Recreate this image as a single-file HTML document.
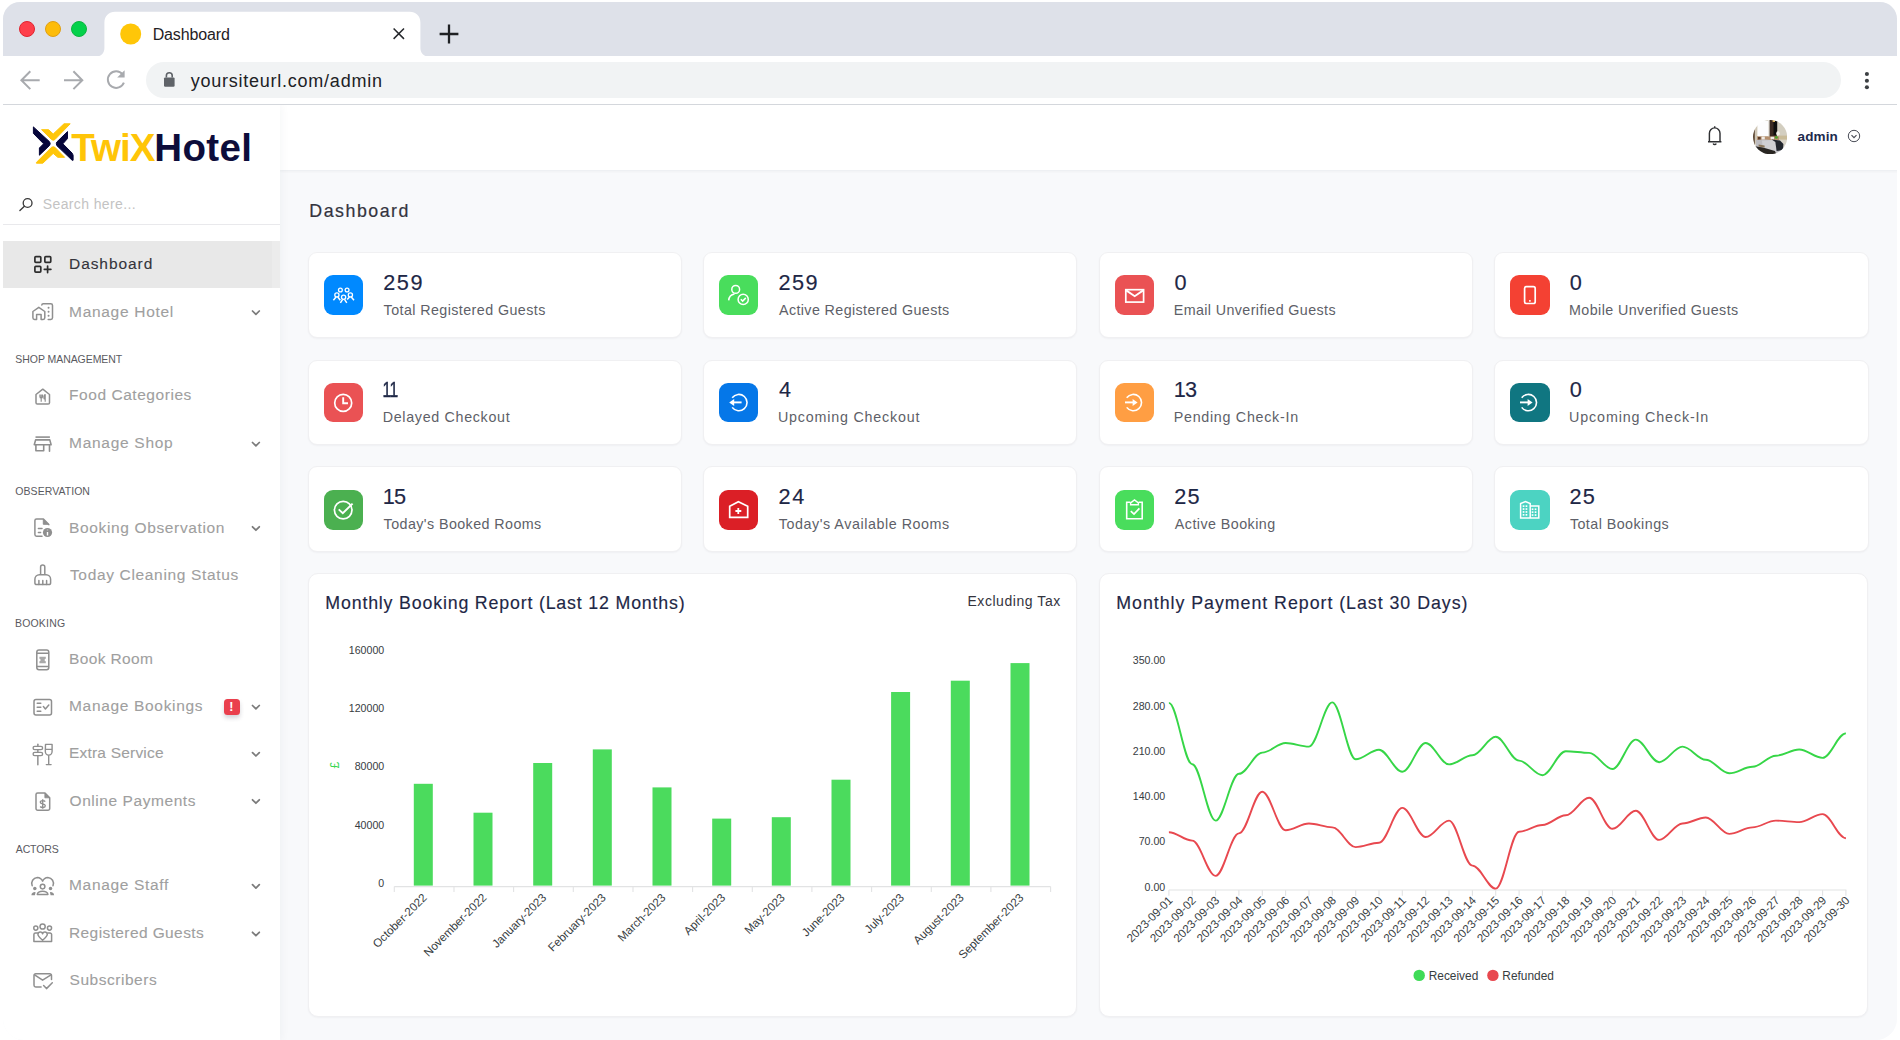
<!DOCTYPE html>
<html lang="en"><head><meta charset="utf-8"><title>Dashboard</title>
<style>
*{box-sizing:border-box}
html,body{margin:0;padding:0}
body{width:1900px;height:1040px;background:#fff;position:relative;overflow:hidden;font-family:"Liberation Sans",Arial,sans-serif}
.t{position:absolute;white-space:nowrap;margin:0}
.abs{position:absolute}
#win{position:absolute;left:3.2px;top:2.3px;width:1893.5px;height:1037.4px;border-radius:17px 17px 21px 21px;overflow:hidden;background:#f8f9fb}
#page{position:absolute;left:-3.2px;top:-2.3px;width:1900px;height:1040px}
#tabbar{z-index:3;left:0;top:0;width:1900px;height:56px;background:#dee1e9}
#toolbar{z-index:3;left:0;top:56px;width:1900px;height:49px;background:#fff;border-bottom:1.5px solid #d4d7dc}
#urlpill{z-index:4;left:145.5px;top:62.3px;width:1695.5px;height:36px;border-radius:18px;background:#f1f3f4}
#sidebar{left:0;top:105px;width:279.5px;height:935px;background:#fff;box-shadow:0 0 10px rgba(40,50,70,.06)}
#header{left:279.5px;top:105px;width:1620.5px;height:65px;background:#fff;box-shadow:0 1px 3px rgba(40,50,70,.07)}
.card{position:absolute;background:#fff;border:1px solid #f0f0f2;border-radius:9px;box-shadow:0 1px 2px rgba(30,30,40,.04)}
.ib{position:absolute;border-radius:9px}
.ib svg{position:absolute;left:0;top:0}
.nav-active{left:0;top:240.7px;width:279.5px;height:47.1px;background:#e8e8e8}
</style></head>
<body>
<div id="win"><div id="page">
<header class="browser-chrome">
<div id="tabbar" class="abs"></div>
<div class="abs" style="z-index:5;left:18.8px;top:20.8px;width:16px;height:16px;border-radius:50%;background:#fe3f4b;border:1px solid #e0242f"></div>
<div class="abs" style="z-index:5;left:45.2px;top:20.8px;width:16px;height:16px;border-radius:50%;background:#fdbc0a;border:1px solid #e09f12"></div>
<div class="abs" style="z-index:5;left:71.4px;top:20.8px;width:16px;height:16px;border-radius:50%;background:#04d14b;border:1px solid #0db53f"></div>
<svg class="abs" style="z-index:5;left:90px;top:8px" width="345" height="49" viewBox="90 8 345 49">
<path d="M96 56.5 C101 56.5 104.4 53 104.4 48 L104.4 22.5 C104.4 16 109 11.8 115 11.8 L409.6 11.8 C416 11.8 420.4 16 420.4 22.5 L420.4 48 C420.4 53 424 56.5 429 56.5 Z" fill="#fff"/>
<circle cx="130.7" cy="34" r="10.5" fill="#ffc608"/>
<path d="M393.6 28.5 L404 38.9 M404 28.5 L393.6 38.9" stroke="#26282c" stroke-width="1.5" fill="none"/>
</svg>
<div class="t" style="left:152.69px;top:26.56px;font-size:16px;line-height:16px;color:#1f2124;letter-spacing:-0.142px;z-index:5;">Dashboard</div>
<svg class="abs" style="z-index:5;left:438px;top:23px" width="22" height="22" viewBox="0 0 22 22"><path d="M11 1.6V20.4M1.6 11H20.4" stroke="#1f2124" stroke-width="2.3" fill="none"/></svg>
<div id="toolbar" class="abs"></div>
<div id="urlpill" class="abs"></div>
<svg class="abs" style="z-index:5;left:14px;top:66px" width="170" height="30" viewBox="14 66 170 30" fill="none" stroke="#a8aaae" stroke-width="2">
<path d="M39.7 80.2H22.3M30.3 71.3L21.4 80.2L30.3 89.1"/>
<path d="M64 80.2H81.4M73.4 71.3L82.3 80.2L73.4 89.1"/>
<path d="M122.6 74.3A8.3 8.3 0 1 0 123.9 82.6"/>
<path d="M124.6 70.2V77.6H117.2Z" fill="#a8aaae" stroke="none"/>
<g stroke="none" fill="#5f6368"><rect x="164" y="77.4" width="10.6" height="9.4" rx="1.2"/></g>
<path d="M166.4 77.6V75.6a2.9 2.9 0 0 1 5.8 0V77.6" stroke="#5f6368" stroke-width="1.6"/>
</svg>
<div class="t" style="left:190.66px;top:72.16px;font-size:18px;line-height:18px;color:#202124;letter-spacing:0.761px;z-index:5;">yoursiteurl.com/admin</div>
<svg class="abs" style="z-index:5;left:1860px;top:68px" width="14" height="26" viewBox="1860 68 14 26" fill="#3c4043"><circle cx="1866.9" cy="74" r="2.05"/><circle cx="1866.9" cy="80.7" r="2.05"/><circle cx="1866.9" cy="87.3" r="2.05"/></svg>
</header>
<aside class="sidebar-wrap">
<div class="abs" style="left:0;top:0;z-index:2"><div id="sidebar" class="abs"></div>
<svg class="abs" style="left:30px;top:118px" width="50" height="50" viewBox="30 118 50 50" stroke-width="1" stroke-linejoin="round">
<g fill="#06063a" stroke="#06063a">
<path d="M33.4 126.900L49.600 141.800Q50.800 143.800 49.600 145.400L39.400 155.200V148L43.600 143.800L33.400 133.400Z"/>
<path d="M67.500 131.600V138.600L62.900 143.800L72.200 153.200L73.100 155.200V160.300H72.200L56.800 145.600Q55.800 143.800 56.800 142Z"/>
</g>
<g fill="#ffc609" stroke="#ffc609">
<path d="M41.600 129.700H48.600L53.200 134L64 123.800H70.200L54.900 139.600Q53.200 140.700 51.600 139.600Z"/>
<path d="M36.400 163.200H42.800L53.200 153.400L57.800 157.300H64.600L54.900 147.300Q53.200 146.300 51.600 147.300L36.400 162.400Z"/>
</g>
</svg>
<div class="t" style="left:71.18px;top:128.51px;font-size:38.5px;line-height:38.5px;color:#ffc508;letter-spacing:-0.880px;font-weight:700;">TwiX</div>
<div class="t" style="left:154.26px;top:128.51px;font-size:38.5px;line-height:38.5px;color:#0d0d3b;letter-spacing:0.372px;font-weight:700;">Hotel</div>
<svg class="abs" style="left:17px;top:195px" width="20" height="20" viewBox="17 195 20 20" fill="none" stroke="#3a3a3a" stroke-width="1.35"><circle cx="27.6" cy="203" r="4.4"/><path d="M24.4 206.3L19.9 210.6" stroke-linecap="round"/></svg>
<div class="t" style="left:42.77px;top:196.75px;font-size:14px;line-height:14px;color:#c3c3c3;letter-spacing:0.375px;">Search here...</div>
<div class="abs" style="left:0;top:224px;width:279.5px;height:1.3px;background:#e9e9ec"></div>
<div class="abs nav-active"></div><div class="abs" style="left:271.5px;top:240.7px;width:8px;height:47.1px;background:#ececec"></div>
<div class="t" style="left:69.03px;top:256.28px;font-size:15.5px;line-height:15.5px;color:#34343b;letter-spacing:0.930px;-webkit-text-stroke:0.12px #34343b;">Dashboard</div>
<div class="t" style="left:69.03px;top:303.78px;font-size:15.5px;line-height:15.5px;color:#9f9f9f;letter-spacing:0.708px;-webkit-text-stroke:0.12px #9f9f9f;">Manage Hotel</div>
<div class="t" style="left:69.03px;top:387.08px;font-size:15.5px;line-height:15.5px;color:#9f9f9f;letter-spacing:0.553px;-webkit-text-stroke:0.12px #9f9f9f;">Food Categories</div>
<div class="t" style="left:69.03px;top:435.28px;font-size:15.5px;line-height:15.5px;color:#9f9f9f;letter-spacing:0.719px;-webkit-text-stroke:0.12px #9f9f9f;">Manage Shop</div>
<div class="t" style="left:69.03px;top:519.58px;font-size:15.5px;line-height:15.5px;color:#9f9f9f;letter-spacing:0.643px;-webkit-text-stroke:0.12px #9f9f9f;">Booking Observation</div>
<div class="t" style="left:69.96px;top:567.08px;font-size:15.5px;line-height:15.5px;color:#9f9f9f;letter-spacing:0.660px;-webkit-text-stroke:0.12px #9f9f9f;">Today Cleaning Status</div>
<div class="t" style="left:69.03px;top:650.78px;font-size:15.5px;line-height:15.5px;color:#9f9f9f;letter-spacing:0.374px;-webkit-text-stroke:0.12px #9f9f9f;">Book Room</div>
<div class="t" style="left:69.03px;top:698.28px;font-size:15.5px;line-height:15.5px;color:#9f9f9f;letter-spacing:0.675px;-webkit-text-stroke:0.12px #9f9f9f;">Manage Bookings</div>
<div class="t" style="left:69.03px;top:745.38px;font-size:15.5px;line-height:15.5px;color:#9f9f9f;letter-spacing:0.199px;-webkit-text-stroke:0.12px #9f9f9f;">Extra Service</div>
<div class="t" style="left:69.57px;top:792.58px;font-size:15.5px;line-height:15.5px;color:#9f9f9f;letter-spacing:0.561px;-webkit-text-stroke:0.12px #9f9f9f;">Online Payments</div>
<div class="t" style="left:69.03px;top:877.48px;font-size:15.5px;line-height:15.5px;color:#9f9f9f;letter-spacing:0.666px;-webkit-text-stroke:0.12px #9f9f9f;">Manage Staff</div>
<div class="t" style="left:69.03px;top:925.08px;font-size:15.5px;line-height:15.5px;color:#9f9f9f;letter-spacing:0.397px;-webkit-text-stroke:0.12px #9f9f9f;">Registered Guests</div>
<div class="t" style="left:69.60px;top:971.98px;font-size:15.5px;line-height:15.5px;color:#9f9f9f;letter-spacing:0.522px;-webkit-text-stroke:0.12px #9f9f9f;">Subscribers</div>
<div class="t" style="left:15.33px;top:354.26px;font-size:10.5px;line-height:10.5px;color:#5a5a5f;letter-spacing:-0.059px;">SHOP MANAGEMENT</div>
<div class="t" style="left:15.31px;top:486.06px;font-size:10.5px;line-height:10.5px;color:#5a5a5f;letter-spacing:0.055px;">OBSERVATION</div>
<div class="t" style="left:14.94px;top:617.56px;font-size:10.5px;line-height:10.5px;color:#5a5a5f;letter-spacing:0.187px;">BOOKING</div>
<div class="t" style="left:15.78px;top:844.06px;font-size:10.5px;line-height:10.5px;color:#5a5a5f;letter-spacing:-0.114px;">ACTORS</div>
<div class="abs" style="left:224.2px;top:699.1px;width:15.8px;height:16.1px;border-radius:3.5px;background:#ea3f4d;box-shadow:0 3px 4px rgba(60,60,80,.22)"></div>
<div class="t" style="left:229.32px;top:701.32px;font-size:12.5px;line-height:12.5px;color:#fff;font-weight:700;">!</div>
<svg class="abs" style="left:0;top:240px" width="280" height="800" viewBox="0 240 280 800" fill="none" stroke="#8f8f8f" stroke-width="1.5" stroke-linejoin="round">
<g stroke="#7b7b7b" stroke-width="1.75" stroke-linecap="round"><path d="M252.5 311.0L255.9 314.4L259.3 311.0"/><path d="M252.5 442.5L255.9 445.9L259.3 442.5"/><path d="M252.5 526.8L255.9 530.2L259.3 526.8"/><path d="M252.5 705.5L255.9 708.9L259.3 705.5"/><path d="M252.5 752.6L255.9 756.0L259.3 752.6"/><path d="M252.5 799.8L255.9 803.2L259.3 799.8"/><path d="M252.5 884.7L255.9 888.1L259.3 884.7"/><path d="M252.5 932.3L255.9 935.7L259.3 932.3"/></g>
<!-- dashboard -->
<g stroke="#2e2e2e" stroke-width="1.7" stroke-linejoin="round" stroke-linecap="round"><rect x="34.9" y="256.7" width="5.9" height="5.7" rx=".9"/><rect x="44.850" y="256.7" width="5.9" height="5.7" rx=".9"/><rect x="34.9" y="266.350" width="5.9" height="5.7" rx=".9"/><path d="M47.600 266V272.600M44.300 269.300H50.900"/></g>
<!-- manage hotel -->
<path d="M32.900 311.500L38.800 307.300L44.800 311.500V317.800a1.700 1.700 0 0 1-1.700 1.700H41.100V314.500H36.600V319.500H34.600a1.700 1.700 0 0 1-1.700-1.700Z"/>
<path d="M41.800 305a1.400 1.400 0 0 1 1.400-1.300H50.800a1.700 1.700 0 0 1 1.700 1.700V317.800a1.700 1.700 0 0 1-1.700 1.700H48.200" stroke-linecap="round"/>
<g fill="#8f8f8f" stroke="none"><circle cx="48.550" cy="307.850" r="1"/><circle cx="48.550" cy="311.750" r="1"/><circle cx="48.550" cy="315.700" r="1"/></g>
<!-- food categories -->
<path d="M36 394.500L42.800 389.200L49.500 394.500V402.700a1.300 1.300 0 0 1-1.300 1.300H37.300a1.300 1.300 0 0 1-1.300-1.300Z"/>
<path d="M41.200 394.600V401.700M39.900 394.600V396.800a1.300 1.300 0 0 0 2.600 0V394.600M45.200 401.700V394.600c-1.200 .8-1.500 2.600-1.100 4.200h1.100" stroke-width="1.150"/>
<!-- manage shop -->
<path d="M35.500 437.100H49.900" stroke-width="1.600"/>
<path d="M35.600 439.900H49.800L51.100 444.800H34.300ZM35.900 444.800V450.800H43.700V444.800M49.500 444.800V451.300" stroke-width="1.600" stroke-linecap="round"/>
<!-- booking observation -->
<path d="M42 536.300H36.600a1.700 1.700 0 0 1-1.700-1.700V520.600a1.700 1.700 0 0 1 1.700-1.700H43.400L48.800 524.600" stroke-linecap="round"/>
<path d="M43.300 519.200V524.300H48.500Z" fill="#8f8f8f" stroke-width="1"/>
<path d="M38.400 528.500H42M38.400 532.500H40.600" stroke-width="1.500" stroke-linecap="round"/>
<circle cx="47.500" cy="532.500" r="4.600" fill="#8f8f8f" stroke="none"/><path d="M47.500 529.700V530.300M47.500 532V535.400" stroke="#fff" stroke-width="1.400"/>
<!-- cleaning -->
<path d="M40.600 574.800V567a2.100 2.100 0 0 1 4.200 0V574.800"/>
<path d="M39.400 574.800H46.100a4.500 4.500 0 0 1 4.500 4.500V583a1.600 1.600 0 0 1-1.600 1.600H36.500a1.600 1.600 0 0 1-1.600-1.600V579.300a4.500 4.500 0 0 1 4.500-4.500Z"/>
<path d="M38.900 584.400V580.500M42.800 584.400V580.500M46.600 584.400V580.500" stroke-linecap="round"/>
<!-- book room -->
<rect x="36.800" y="650" width="12" height="19.700" rx="2.200"/><path d="M36.800 653.200H48.800M36.800 666.500H48.800" stroke-width="1.400"/>
<path d="M39.400 656.700H45.800V658.800a1.200 1.200 0 0 0 0 2.400V663.300H39.400V661.200a1.200 1.200 0 0 0 0-2.400Z" fill="#a9a9a9" stroke="none"/>
<!-- manage bookings -->
<rect x="34" y="699.500" width="17.500" height="15.500" rx="2"/>
<path d="M37.200 703.300H40.800M37.200 707.200H40.800M37.200 711.200H40.800M43.400 706.600L45.400 708.900L48.800 705" stroke-width="1.500" stroke-linecap="round"/>
<!-- extra service -->
<path d="M37.850 744.200V764.700" stroke-width="1.500" stroke-linecap="round"/>
<rect x="33.100" y="746.400" width="9.500" height="3.200" rx="1.600" fill="#fff" stroke-width="1.400"/><rect x="33.100" y="752.400" width="9.500" height="3.200" rx="1.600" fill="#fff" stroke-width="1.400"/>
<path d="M45.500 744.400H52.100V751.200a3.400 3.900 0 0 1-6.800 0ZM48.700 755.200V764.400M46.300 764.600H51.100M45.500 749.400H52" stroke-width="1.400" stroke-linecap="round"/>
<!-- online payments -->
<path d="M36 794.600a1.700 1.700 0 0 1 1.700-1.700H45L49.700 797.700V808.600a1.700 1.700 0 0 1-1.700 1.700H37.700a1.700 1.700 0 0 1-1.700-1.700Z"/>
<path d="M44.900 793.200V797.800H49.400Z" fill="#8f8f8f" stroke-width=".9"/>
<path d="M45.200 801.600c-.8-1.300-4.900-1.500-4.900 .6 0 2.400 5 1 5 3.600 0 2.100-4 2.100-5.100 .7M42.700 799.200V808.700" stroke-width="1.350"/>
<!-- manage staff -->
<path d="M32.200 885.700A6 6 0 0 1 37.300 877.400A6 6 0 0 1 42.600 881.100A6 6 0 0 1 47.900 877.400A6 6 0 0 1 53 885.700" stroke-width="1.500" stroke-linecap="round"/>
<circle cx="42.600" cy="886.600" r="2.300" stroke-width="1.500"/><path d="M37.300 894.500a5.300 3.300 0 0 1 10.600 0Z" stroke-width="1.500"/>
<g fill="#8f8f8f" stroke="none"><circle cx="34.800" cy="888.600" r="1.750"/><circle cx="50.500" cy="888.600" r="1.750"/><path d="M31.400 895.200a3.400 3 0 0 1 4.200-3L34.900 895.200ZM54.100 895.200a3.400 3 0 0 0-4.200-3L50.600 895.200Z"/></g>
<!-- registered guests -->
<circle cx="35.800" cy="928.100" r="2.050" stroke-width="1.500"/><circle cx="42.600" cy="926.500" r="2.600" stroke-width="1.500"/><circle cx="49.500" cy="928.100" r="2.050" stroke-width="1.500"/>
<path d="M38.200 933H35.500a1.600 1.600 0 0 0-1.600 1.600V941.600H51.600V934.600a1.600 1.600 0 0 0-1.600-1.600H47.200" stroke-width="1.500"/>
<path d="M42.600 940.300C39.500 937.600 37.900 936 37.900 934.300a2.400 2.400 0 0 1 4.700-.5a2.400 2.400 0 0 1 4.700 .5C47.300 936 45.700 937.600 42.600 940.300Z" stroke-width="1.500"/>
<!-- subscribers -->
<path d="M41.100 987H35.700a1.700 1.700 0 0 1-1.700-1.700V975.500a1.700 1.700 0 0 1 1.700-1.700H49.800a1.700 1.700 0 0 1 1.700 1.700V979.500" stroke-linecap="round"/>
<path d="M34.600 974.900L42.600 980.200L51 974.900M43.600 985.500L46.500 988.600L52.300 982.700" stroke-linecap="round"/>
</svg></div>
</aside>
<main class="content">
<section class="topbar-and-stats">
<div id="header" class="abs"></div>
<svg class="abs" style="left:1702px;top:122px" width="26" height="28" viewBox="1702 122 26 28" fill="none" stroke="#2f3033" stroke-width="1.45" stroke-linejoin="round">
<path d="M1708 141.800H1721.400M1709.400 141.600V133.200a5.300 5.300 0 0 1 10.600 0V141.600M1714.700 127.800V126.200M1713.200 143.400a1.600 1.600 0 0 0 3 0"/></svg>
<svg class="abs" style="left:1752.8px;top:119.8px" width="34.2" height="34.2" viewBox="0 0 34.2 34.2">
<defs><clipPath id="avc"><circle cx="17.1" cy="17.1" r="17.1"/></clipPath>
<filter id="avb" x="-10%" y="-10%" width="120%" height="120%"><feGaussianBlur stdDeviation=".55"/></filter></defs>
<g clip-path="url(#avc)"><g filter="url(#avb)">
<rect x="-2" y="-2" width="39" height="39" fill="#d9d4c8"/>
<rect x="-1" y="4" width="3" height="26" fill="#5a4433"/>
<rect x="1.8" y="0" width="3" height="24" fill="#cfc6b6"/>
<rect x="4.4" y="1" width="11" height="15" fill="#fdfdfe"/>
<rect x="15" y="0" width="1.8" height="18" fill="#e9e6e0"/>
<rect x="16.6" y="-1" width="7.8" height="18.4" fill="#3b2a22"/>
<rect x="20.6" y="-1" width="3.8" height="16" fill="#0e0a08"/>
<rect x="19.6" y="0" width="2.4" height="2" fill="#d9b15c"/>
<rect x="24.4" y="2" width="10" height="15" fill="#d3cec0"/>
<ellipse cx="25" cy="13.6" rx="1.8" ry="2.4" fill="#f4f1e8"/>
<rect x="25" y="15.6" width="10" height="4" fill="#c9bb98"/>
<rect x="4" y="16.4" width="22" height="3.6" fill="#b58f6d"/>
<rect x="8.6" y="16.6" width="3.2" height="3" fill="#efeae4"/><rect x="17.6" y="16.8" width="3.4" height="2.6" fill="#f1ede8"/>
<rect x="5" y="17" width="2.6" height="2.6" fill="#5b3d2b"/>
<ellipse cx="23.4" cy="17.4" rx="1.5" ry="1.3" fill="#4fa32c"/>
<path d="M3 20 L12 19.4 L24 20.4 L30 23 L31 34 L3 34Z" fill="#bdbcc0"/>
<path d="M9 20.4 L22 20 L23.4 32 L10 30Z" fill="#cfcfd3"/>
<path d="M18.6 19.6 L27 20.6 L30.4 24 L30 30 L23.6 31 L22.4 22Z" fill="#22262f"/>
<path d="M0 26 L10 27.6 L22 31 L24 36 L0 36Z" fill="#2a2824"/>
<path d="M5.6 24.6 L11.6 25.6 L11.6 27.4 L5.6 26.4Z" fill="#8a7558"/>
</g></g></svg>
<div class="t" style="left:1797.61px;top:129.67px;font-size:13.5px;line-height:13.5px;color:#1d2a4d;letter-spacing:0.093px;font-weight:700;">admin</div>
<svg class="abs" style="left:1846px;top:128px" width="16" height="16" viewBox="0 0 16 16" fill="none" stroke="#4a4d57" stroke-width="1"><circle cx="8" cy="8" r="5.700"/><path d="M5.500 7.200L8 9.700L10.500 7.200" stroke-width="1.200"/></svg>
<div class="t" style="left:309.34px;top:202.53px;font-size:17.8px;line-height:17.8px;color:#34343e;letter-spacing:1.515px;-webkit-text-stroke:0.2px #34343e;">Dashboard</div>
<div class="card" style="left:307.7px;top:251.8px;width:374.6px;height:86.5px"></div>
<div class="ib" style="left:324.0px;top:275.2px;width:39.400px;height:39.400px;background:#0089ff"><svg width="39.400" height="39.400" viewBox="0 0 39.400 39.400"><g stroke="#fff" fill="none" stroke-width="1.300"><circle cx="16.400" cy="15" r="1.900"/><circle cx="23.100" cy="15" r="1.900"/><circle cx="12.900" cy="19.900" r="2.100"/><circle cx="26.400" cy="19.900" r="2.100"/><circle cx="19.600" cy="22.200" r="2.100"/><path d="M9.400 25.200L12 22M16.300 25.200L13.800 22M30 25.200L27.300 22M23.200 24.600L25.500 22M16.400 27.800L18.700 24.300M22.800 27.800L20.500 24.300" stroke-width="1.500"/></g></svg></div>
<div class="t" style="left:383.31px;top:271.63px;font-size:21.7px;line-height:21.7px;color:#1e2746;letter-spacing:1.505px;-webkit-text-stroke:0.15px #1e2746;">259</div>
<div class="t" style="left:383.59px;top:302.60px;font-size:14.3px;line-height:14.3px;color:#5e5f68;letter-spacing:0.415px;">Total Registered Guests</div>
<div class="card" style="left:702.8px;top:251.8px;width:374.6px;height:86.5px"></div>
<div class="ib" style="left:719.1px;top:275.2px;width:39.400px;height:39.400px;background:#49dd5c"><svg width="39.400" height="39.400" viewBox="0 0 39.400 39.400"><g stroke="#fff" fill="none" stroke-width="1.500"><circle cx="16.700" cy="14.400" r="3.900"/><path d="M9.700 25.400a7 7 0 0 1 5.800-6.300"/><circle cx="24.200" cy="24.400" r="5.100"/><path d="M21.800 24.200L23.700 26.100L26.800 22.900"/></g></svg></div>
<div class="t" style="left:778.41px;top:271.63px;font-size:21.7px;line-height:21.7px;color:#1e2746;letter-spacing:1.505px;-webkit-text-stroke:0.15px #1e2746;">259</div>
<div class="t" style="left:778.97px;top:302.60px;font-size:14.3px;line-height:14.3px;color:#5e5f68;letter-spacing:0.387px;">Active Registered Guests</div>
<div class="card" style="left:1098.7px;top:251.8px;width:374.6px;height:86.5px"></div>
<div class="ib" style="left:1115.0px;top:275.2px;width:39.400px;height:39.400px;background:#ea5254"><svg width="39.400" height="39.400" viewBox="0 0 39.400 39.400"><g stroke="#fff" fill="none" stroke-width="1.700"><rect x="10.800" y="14.700" width="17.800" height="12.400"/><path d="M11.200 15.400L19.700 21.200L28.200 15.400" stroke-width="1.900"/></g></svg></div>
<div class="t" style="left:1174.55px;top:271.63px;font-size:21.7px;line-height:21.7px;color:#1e2746;-webkit-text-stroke:0.15px #1e2746;">0</div>
<div class="t" style="left:1173.73px;top:302.60px;font-size:14.3px;line-height:14.3px;color:#5e5f68;letter-spacing:0.387px;">Email Unverified Guests</div>
<div class="card" style="left:1494.0px;top:251.8px;width:374.6px;height:86.5px"></div>
<div class="ib" style="left:1510.3px;top:275.2px;width:39.400px;height:39.400px;background:#f44133"><svg width="39.400" height="39.400" viewBox="0 0 39.400 39.400"><g stroke="#fff" fill="none" stroke-width="1.700"><rect x="14.600" y="11.700" width="10.600" height="16.800" rx="1.800"/><path d="M19.900 26.800V25" stroke-width="1.500"/></g></svg></div>
<div class="t" style="left:1569.85px;top:271.63px;font-size:21.7px;line-height:21.7px;color:#1e2746;-webkit-text-stroke:0.15px #1e2746;">0</div>
<div class="t" style="left:1569.03px;top:302.60px;font-size:14.3px;line-height:14.3px;color:#5e5f68;letter-spacing:0.411px;">Mobile Unverified Guests</div>
<div class="card" style="left:307.7px;top:359.5px;width:374.6px;height:85.4px"></div>
<div class="ib" style="left:324.0px;top:382.8px;width:39.400px;height:39.400px;background:#ea5254"><svg width="39.400" height="39.400" viewBox="0 0 39.400 39.400"><g stroke="#fff" fill="none" stroke-width="1.700"><circle cx="19.200" cy="19.900" r="8.500"/><path d="M19.200 14.200V20.200H24" stroke-width="1.900"/></g></svg></div>
<div class="t" style="left:382.25px;top:379.13px;font-size:21.7px;line-height:21.7px;color:#1e2746;letter-spacing:-0.6px;transform:scaleX(.72);transform-origin:1.6px 50%;-webkit-text-stroke:.5px #1e2746;">11</div>
<div class="t" style="left:382.73px;top:410.10px;font-size:14.3px;line-height:14.3px;color:#5e5f68;letter-spacing:0.674px;">Delayed Checkout</div>
<div class="card" style="left:702.8px;top:359.5px;width:374.6px;height:85.4px"></div>
<div class="ib" style="left:719.1px;top:382.8px;width:39.400px;height:39.400px;background:#0577e8"><svg width="39.400" height="39.400" viewBox="0 0 39.400 39.400"><g stroke="#fff" fill="none" stroke-width="1.600" transform="translate(0 -.4)"><path d="M13.200 15.200a8.200 8.200 0 1 1 0 9.600"/><path d="M22.600 19.800H12.600" stroke-width="1.900"/><path d="M10.200 19.800L15.200 16.300V23.300Z" fill="#fff" stroke="none"/></g></svg></div>
<div class="t" style="left:779.02px;top:379.13px;font-size:21.7px;line-height:21.7px;color:#1e2746;-webkit-text-stroke:0.15px #1e2746;">4</div>
<div class="t" style="left:777.90px;top:410.10px;font-size:14.3px;line-height:14.3px;color:#5e5f68;letter-spacing:0.796px;">Upcoming Checkout</div>
<div class="card" style="left:1098.7px;top:359.5px;width:374.6px;height:85.4px"></div>
<div class="ib" style="left:1115.0px;top:382.8px;width:39.400px;height:39.400px;background:#ff9e43"><svg width="39.400" height="39.400" viewBox="0 0 39.400 39.400"><g stroke="#fff" fill="none" stroke-width="1.600" transform="translate(0 -.4)"><path d="M11.700 15.200a8.200 8.200 0 1 1 0 9.600"/><path d="M10 19.800H19.500" stroke-width="1.900"/><path d="M22.600 19.800L17.600 16.300V23.300Z" fill="#fff" stroke="none"/></g></svg></div>
<div class="t" style="left:1173.75px;top:379.13px;font-size:21.7px;line-height:21.7px;color:#1e2746;letter-spacing:-0.900px;-webkit-text-stroke:0.15px #1e2746;">13</div>
<div class="t" style="left:1173.73px;top:410.10px;font-size:14.3px;line-height:14.3px;color:#5e5f68;letter-spacing:0.714px;">Pending Check-In</div>
<div class="card" style="left:1494.0px;top:359.5px;width:374.6px;height:85.4px"></div>
<div class="ib" style="left:1510.3px;top:382.8px;width:39.400px;height:39.400px;background:#107681"><svg width="39.400" height="39.400" viewBox="0 0 39.400 39.400"><g stroke="#fff" fill="none" stroke-width="1.600" transform="translate(0 -.4)"><path d="M11.700 15.200a8.200 8.200 0 1 1 0 9.600"/><path d="M10 19.800H19.500" stroke-width="1.900"/><path d="M22.600 19.800L17.600 16.300V23.300Z" fill="#fff" stroke="none"/></g></svg></div>
<div class="t" style="left:1569.85px;top:379.13px;font-size:21.7px;line-height:21.7px;color:#1e2746;-webkit-text-stroke:0.15px #1e2746;">0</div>
<div class="t" style="left:1569.10px;top:410.10px;font-size:14.3px;line-height:14.3px;color:#5e5f68;letter-spacing:0.853px;">Upcoming Check-In</div>
<div class="card" style="left:307.7px;top:465.9px;width:374.6px;height:86.5px"></div>
<div class="ib" style="left:324.0px;top:490.3px;width:39.400px;height:39.400px;background:#4bb050"><svg width="39.400" height="39.400" viewBox="0 0 39.400 39.400"><g stroke="#fff" fill="none" stroke-width="1.700"><circle cx="19.200" cy="20.100" r="8.800"/><path d="M14.700 19.400L18.800 23.200L28.600 13.600" stroke-width="1.900"/></g></svg></div>
<div class="t" style="left:382.75px;top:485.63px;font-size:21.7px;line-height:21.7px;color:#1e2746;letter-spacing:-0.900px;-webkit-text-stroke:0.15px #1e2746;">15</div>
<div class="t" style="left:383.59px;top:516.60px;font-size:14.3px;line-height:14.3px;color:#5e5f68;letter-spacing:0.418px;">Today's Booked Rooms</div>
<div class="card" style="left:702.8px;top:465.9px;width:374.6px;height:86.5px"></div>
<div class="ib" style="left:719.1px;top:490.3px;width:39.400px;height:39.400px;background:#db1f26"><svg width="39.400" height="39.400" viewBox="0 0 39.400 39.400"><g stroke="#fff" fill="none" stroke-width="1.700"><path d="M10.700 27.400V16.200L19.400 11.700L28.700 16.200V27.400Z"/><path d="M19.300 18.100V24M16.400 21H22.300" stroke-width="1.800"/></g></svg></div>
<div class="t" style="left:778.41px;top:485.63px;font-size:21.7px;line-height:21.7px;color:#1e2746;letter-spacing:1.684px;-webkit-text-stroke:0.15px #1e2746;">24</div>
<div class="t" style="left:778.69px;top:516.60px;font-size:14.3px;line-height:14.3px;color:#5e5f68;letter-spacing:0.558px;">Today's Available Rooms</div>
<div class="card" style="left:1098.7px;top:465.9px;width:374.6px;height:86.5px"></div>
<div class="ib" style="left:1115.0px;top:490.3px;width:39.400px;height:39.400px;background:#49dd5c"><svg width="39.400" height="39.400" viewBox="0 0 39.400 39.400"><g stroke="#fff" fill="none" stroke-width="1.600"><path d="M15.400 12.200H11.700V28.800H27.200V12.200H23.600"/><path d="M15.600 14.700V12.900L19.500 9.900L23.400 12.900V14.700Z" stroke-width="1.400"/><path d="M15.800 21.100L19 24.100L24.400 18.400" stroke-width="1.700"/></g></svg></div>
<div class="t" style="left:1174.32px;top:485.63px;font-size:21.7px;line-height:21.7px;color:#1e2746;letter-spacing:1.144px;-webkit-text-stroke:0.15px #1e2746;">25</div>
<div class="t" style="left:1174.87px;top:516.60px;font-size:14.3px;line-height:14.3px;color:#5e5f68;letter-spacing:0.435px;">Active Booking</div>
<div class="card" style="left:1494.0px;top:465.9px;width:374.6px;height:86.5px"></div>
<div class="ib" style="left:1510.3px;top:490.3px;width:39.400px;height:39.400px;background:#4cd3c2"><svg width="39.400" height="39.400" viewBox="0 0 39.400 39.400"><g stroke="#fff" fill="none" stroke-width="1.500"><path d="M10.600 28.100V13.500L15.500 11.600L20.200 13.600V28.100ZM20.200 16.100H28.800V28.100H20.200"/><g fill="#fff" stroke="none"><rect x="12.700" y="15.300" width="1.700" height="1.700"/><rect x="15.600" y="15.300" width="1.700" height="1.700"/><rect x="12.700" y="18.200" width="1.700" height="1.700"/><rect x="15.600" y="18.200" width="1.700" height="1.700"/><rect x="12.700" y="21.100" width="1.700" height="1.700"/><rect x="15.600" y="21.100" width="1.700" height="1.700"/><rect x="12.700" y="24" width="1.700" height="1.700"/><rect x="15.600" y="24" width="1.700" height="1.700"/><rect x="21.700" y="18.400" width="1.700" height="1.700"/><rect x="24.700" y="18.400" width="1.700" height="1.700"/><rect x="21.700" y="21.300" width="1.700" height="1.700"/><rect x="24.700" y="21.300" width="1.700" height="1.700"/><rect x="21.700" y="24.200" width="1.700" height="1.700"/><rect x="24.700" y="24.200" width="1.700" height="1.700"/></g></g></svg></div>
<div class="t" style="left:1569.62px;top:485.63px;font-size:21.7px;line-height:21.7px;color:#1e2746;letter-spacing:1.144px;-webkit-text-stroke:0.15px #1e2746;">25</div>
<div class="t" style="left:1569.89px;top:516.60px;font-size:14.3px;line-height:14.3px;color:#5e5f68;letter-spacing:0.448px;">Total Bookings</div>
</section>
<section class="charts">
<div class="card" style="left:307.7px;top:573.4px;width:769.8px;height:443.6px;border-radius:10px"></div>
<div class="card" style="left:1098.7px;top:573.4px;width:769.4px;height:443.6px;border-radius:10px"></div>
<div class="t" style="left:325.34px;top:594.93px;font-size:17.8px;line-height:17.8px;color:#1e2746;letter-spacing:0.821px;-webkit-text-stroke:0.15px #1e2746;">Monthly Booking Report (Last 12 Months)</div>
<div class="t" style="left:1116.24px;top:594.93px;font-size:17.8px;line-height:17.8px;color:#1e2746;letter-spacing:0.972px;-webkit-text-stroke:0.15px #1e2746;">Monthly Payment Report (Last 30 Days)</div>
<div class="t" style="left:967.45px;top:594.45px;font-size:14px;line-height:14px;color:#34343e;letter-spacing:0.555px;">Excluding Tax</div>
<svg class="abs" style="left:300px;top:630px" width="1600" height="400" viewBox="300 630 1600 400" font-family="'Liberation Sans',Arial,sans-serif">
<g stroke="#e2e3e4" stroke-width="1.1" fill="none"><path d="M394.3 886.6H1050.6"/>
<path d="M394.3 886.6v5.500M454.0 886.6v5.500M513.6 886.6v5.500M573.3 886.6v5.500M633.0 886.6v5.500M692.6 886.6v5.500M752.3 886.6v5.500M811.9 886.6v5.500M871.6 886.6v5.500M931.3 886.6v5.500M990.9 886.6v5.500M1050.6 886.6v5.500"/></g>
<text x="384.200" y="654.1" text-anchor="end" font-size="10.600" fill="#373d3f">160000</text>
<text x="384.200" y="712.2" text-anchor="end" font-size="10.600" fill="#373d3f">120000</text>
<text x="384.200" y="770.4" text-anchor="end" font-size="10.600" fill="#373d3f">80000</text>
<text x="384.200" y="828.5" text-anchor="end" font-size="10.600" fill="#373d3f">40000</text>
<text x="384.200" y="886.6" text-anchor="end" font-size="10.600" fill="#373d3f">0</text>
<text x="338.600" y="765.200" text-anchor="middle" font-size="12" fill="#3ad652" transform="rotate(-90 338.600 765.200)">£</text>
<g fill="#4bdb5d">
<rect x="413.8" y="783.8" width="19" height="101.8"/>
<rect x="473.5" y="812.7" width="19" height="72.9"/>
<rect x="533.2" y="763.0" width="19" height="122.6"/>
<rect x="592.8" y="749.4" width="19" height="136.2"/>
<rect x="652.5" y="787.4" width="19" height="98.2"/>
<rect x="712.2" y="818.6" width="19" height="67.0"/>
<rect x="771.8" y="817.2" width="19" height="68.4"/>
<rect x="831.5" y="779.7" width="19" height="105.9"/>
<rect x="891.1" y="692.0" width="19" height="193.6"/>
<rect x="950.8" y="680.7" width="19" height="204.9"/>
<rect x="1010.5" y="663.1" width="19" height="222.5"/>
</g>
<g font-size="11.600" fill="#373d3f" text-anchor="end">
<text x="427.6" y="898.4" transform="rotate(-45 427.6 898.4)">October-2022</text>
<text x="487.3" y="898.4" transform="rotate(-45 487.3 898.4)">November-2022</text>
<text x="547.0" y="898.4" transform="rotate(-45 547.0 898.4)">January-2023</text>
<text x="606.6" y="898.4" transform="rotate(-45 606.6 898.4)">February-2023</text>
<text x="666.3" y="898.4" transform="rotate(-45 666.3 898.4)">March-2023</text>
<text x="726.0" y="898.4" transform="rotate(-45 726.0 898.4)">April-2023</text>
<text x="785.6" y="898.4" transform="rotate(-45 785.6 898.4)">May-2023</text>
<text x="845.3" y="898.4" transform="rotate(-45 845.3 898.4)">June-2023</text>
<text x="904.9" y="898.4" transform="rotate(-45 904.9 898.4)">July-2023</text>
<text x="964.6" y="898.4" transform="rotate(-45 964.6 898.4)">August-2023</text>
<text x="1024.3" y="898.4" transform="rotate(-45 1024.3 898.4)">September-2023</text>
</g>
<g stroke="#e2e3e4" stroke-width="1.1" fill="none"><path d="M1168.9 890.0H1846.4"/>
<path d="M1168.9 890.0v5.800M1192.2 890.0v5.800M1215.6 890.0v5.800M1238.9 890.0v5.800M1262.3 890.0v5.800M1285.6 890.0v5.800M1309.0 890.0v5.800M1332.3 890.0v5.800M1355.7 890.0v5.800M1379.0 890.0v5.800M1402.3 890.0v5.800M1425.7 890.0v5.800M1449.0 890.0v5.800M1472.4 890.0v5.800M1495.7 890.0v5.800M1519.1 890.0v5.800M1542.4 890.0v5.800M1565.8 890.0v5.800M1589.1 890.0v5.800M1612.5 890.0v5.800M1635.8 890.0v5.800M1659.1 890.0v5.800M1682.5 890.0v5.800M1705.8 890.0v5.800M1729.2 890.0v5.800M1752.5 890.0v5.800M1775.9 890.0v5.800M1799.2 890.0v5.800M1822.6 890.0v5.800M1845.9 890.0v5.800"/></g>
<text x="1165.200" y="664.2" text-anchor="end" font-size="10.600" fill="#373d3f">350.00</text>
<text x="1165.200" y="709.5" text-anchor="end" font-size="10.600" fill="#373d3f">280.00</text>
<text x="1165.200" y="754.8" text-anchor="end" font-size="10.600" fill="#373d3f">210.00</text>
<text x="1165.200" y="800.1" text-anchor="end" font-size="10.600" fill="#373d3f">140.00</text>
<text x="1165.200" y="845.4" text-anchor="end" font-size="10.600" fill="#373d3f">70.00</text>
<text x="1165.200" y="890.6" text-anchor="end" font-size="10.600" fill="#373d3f">0.00</text>
<path d="M1168.90 702.90C1177.07 702.90 1184.07 764.20 1192.24 764.20C1200.42 764.20 1207.42 820.60 1215.59 820.60C1223.76 820.60 1230.76 773.80 1238.93 773.80C1247.11 773.80 1254.11 752.60 1262.28 752.60C1270.45 752.60 1277.45 743.00 1285.62 743.00C1293.79 743.00 1300.80 746.60 1308.97 746.60C1317.14 746.60 1324.14 702.40 1332.31 702.40C1340.48 702.40 1347.49 759.30 1355.66 759.30C1363.83 759.30 1370.83 749.70 1379.00 749.70C1387.17 749.70 1394.18 771.80 1402.35 771.80C1410.52 771.80 1417.52 743.00 1425.69 743.00C1433.86 743.00 1440.87 764.40 1449.04 764.40C1457.21 764.40 1464.21 755.30 1472.38 755.30C1480.55 755.30 1487.56 736.80 1495.73 736.80C1503.90 736.80 1510.90 760.60 1519.07 760.60C1527.24 760.60 1534.25 775.20 1542.42 775.20C1550.59 775.20 1557.59 751.20 1565.76 751.20C1573.93 751.20 1580.94 752.90 1589.11 752.90C1597.28 752.90 1604.28 769.00 1612.45 769.00C1620.62 769.00 1627.63 739.60 1635.80 739.60C1643.97 739.60 1650.97 762.20 1659.14 762.20C1667.31 762.20 1674.32 746.60 1682.49 746.60C1690.66 746.60 1697.66 759.80 1705.83 759.80C1714.00 759.80 1721.01 773.30 1729.18 773.30C1737.35 773.30 1744.35 766.80 1752.52 766.80C1760.69 766.80 1767.69 755.70 1775.87 755.70C1784.04 755.70 1791.04 749.50 1799.21 749.50C1807.38 749.50 1814.38 757.90 1822.56 757.90C1830.73 757.90 1837.73 733.40 1845.90 733.40" fill="none" stroke="#36d647" stroke-width="1.900" stroke-linecap="butt"/>
<path d="M1168.90 832.20C1177.07 832.20 1184.07 840.60 1192.24 840.60C1200.42 840.60 1207.42 875.90 1215.59 875.90C1223.76 875.90 1230.76 833.40 1238.93 833.40C1247.11 833.40 1254.11 791.80 1262.28 791.80C1270.45 791.80 1277.45 830.20 1285.62 830.20C1293.79 830.20 1300.80 823.50 1308.97 823.50C1317.14 823.50 1324.14 827.40 1332.31 827.40C1340.48 827.40 1347.49 847.10 1355.66 847.10C1363.83 847.10 1370.83 842.70 1379.00 842.70C1387.17 842.70 1394.18 807.90 1402.35 807.90C1410.52 807.90 1417.52 837.00 1425.69 837.00C1433.86 837.00 1440.87 820.60 1449.04 820.60C1457.21 820.60 1464.21 865.60 1472.38 865.60C1480.55 865.60 1487.56 888.60 1495.73 888.60C1503.90 888.60 1510.90 831.70 1519.07 831.70C1527.24 831.70 1534.25 825.00 1542.42 825.00C1550.59 825.00 1557.59 815.30 1565.76 815.30C1573.93 815.30 1580.94 797.80 1589.11 797.80C1597.28 797.80 1604.28 828.80 1612.45 828.80C1620.62 828.80 1627.63 810.80 1635.80 810.80C1643.97 810.80 1650.97 839.90 1659.14 839.90C1667.31 839.90 1674.32 823.50 1682.49 823.50C1690.66 823.50 1697.66 817.50 1705.83 817.50C1714.00 817.50 1721.01 833.90 1729.18 833.90C1737.35 833.90 1744.35 827.40 1752.52 827.40C1760.69 827.40 1767.69 820.60 1775.87 820.60C1784.04 820.60 1791.04 822.10 1799.21 822.10C1807.38 822.10 1814.38 814.10 1822.56 814.10C1830.73 814.10 1837.73 838.20 1845.90 838.20" fill="none" stroke="#e8484f" stroke-width="1.900" stroke-linecap="butt"/>
<g font-size="11.600" fill="#373d3f" text-anchor="end">
<text x="1173.4" y="901.1" transform="rotate(-45 1173.4 901.1)">2023-09-01</text>
<text x="1196.7" y="901.1" transform="rotate(-45 1196.7 901.1)">2023-09-02</text>
<text x="1220.1" y="901.1" transform="rotate(-45 1220.1 901.1)">2023-09-03</text>
<text x="1243.4" y="901.1" transform="rotate(-45 1243.4 901.1)">2023-09-04</text>
<text x="1266.8" y="901.1" transform="rotate(-45 1266.8 901.1)">2023-09-05</text>
<text x="1290.1" y="901.1" transform="rotate(-45 1290.1 901.1)">2023-09-06</text>
<text x="1313.5" y="901.1" transform="rotate(-45 1313.5 901.1)">2023-09-07</text>
<text x="1336.8" y="901.1" transform="rotate(-45 1336.8 901.1)">2023-09-08</text>
<text x="1360.2" y="901.1" transform="rotate(-45 1360.2 901.1)">2023-09-09</text>
<text x="1383.5" y="901.1" transform="rotate(-45 1383.5 901.1)">2023-09-10</text>
<text x="1406.8" y="901.1" transform="rotate(-45 1406.8 901.1)">2023-09-11</text>
<text x="1430.2" y="901.1" transform="rotate(-45 1430.2 901.1)">2023-09-12</text>
<text x="1453.5" y="901.1" transform="rotate(-45 1453.5 901.1)">2023-09-13</text>
<text x="1476.9" y="901.1" transform="rotate(-45 1476.9 901.1)">2023-09-14</text>
<text x="1500.2" y="901.1" transform="rotate(-45 1500.2 901.1)">2023-09-15</text>
<text x="1523.6" y="901.1" transform="rotate(-45 1523.6 901.1)">2023-09-16</text>
<text x="1546.9" y="901.1" transform="rotate(-45 1546.9 901.1)">2023-09-17</text>
<text x="1570.3" y="901.1" transform="rotate(-45 1570.3 901.1)">2023-09-18</text>
<text x="1593.6" y="901.1" transform="rotate(-45 1593.6 901.1)">2023-09-19</text>
<text x="1617.0" y="901.1" transform="rotate(-45 1617.0 901.1)">2023-09-20</text>
<text x="1640.3" y="901.1" transform="rotate(-45 1640.3 901.1)">2023-09-21</text>
<text x="1663.6" y="901.1" transform="rotate(-45 1663.6 901.1)">2023-09-22</text>
<text x="1687.0" y="901.1" transform="rotate(-45 1687.0 901.1)">2023-09-23</text>
<text x="1710.3" y="901.1" transform="rotate(-45 1710.3 901.1)">2023-09-24</text>
<text x="1733.7" y="901.1" transform="rotate(-45 1733.7 901.1)">2023-09-25</text>
<text x="1757.0" y="901.1" transform="rotate(-45 1757.0 901.1)">2023-09-26</text>
<text x="1780.4" y="901.1" transform="rotate(-45 1780.4 901.1)">2023-09-27</text>
<text x="1803.7" y="901.1" transform="rotate(-45 1803.7 901.1)">2023-09-28</text>
<text x="1827.1" y="901.1" transform="rotate(-45 1827.1 901.1)">2023-09-29</text>
<text x="1850.4" y="901.1" transform="rotate(-45 1850.4 901.1)">2023-09-30</text>
</g>
<circle cx="1419.200" cy="975.400" r="5.700" fill="#3fdb57"/><circle cx="1492.900" cy="975.400" r="5.700" fill="#e8484f"/>
<text x="1428.700" y="979.600" font-size="11.900" fill="#373d3f">Received</text><text x="1502.300" y="979.600" font-size="11.900" fill="#373d3f">Refunded</text>
</svg>
</section>
</main>
</div></div>
</body></html>
